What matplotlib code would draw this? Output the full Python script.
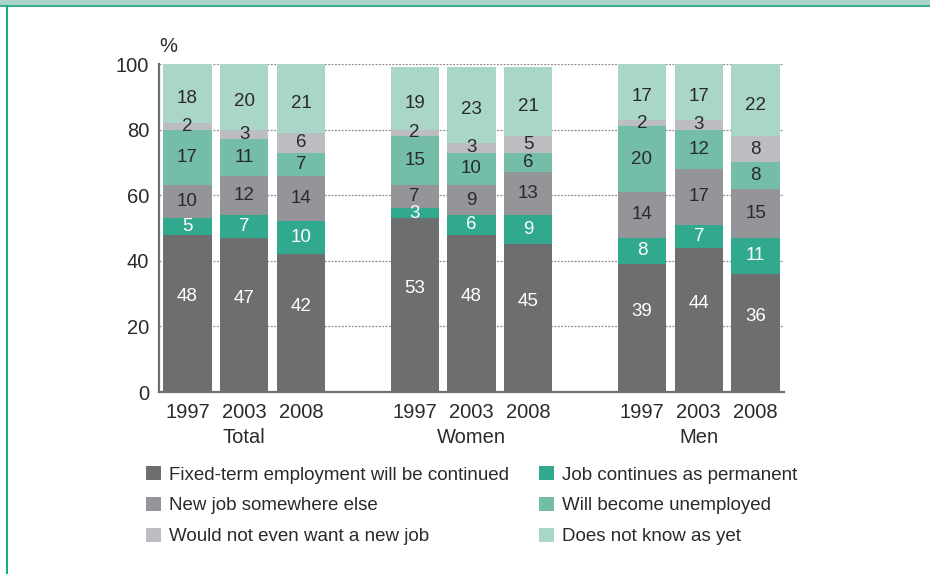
import numpy as np
import matplotlib.pyplot as plt
from matplotlib.patches import Patch, Rectangle

plt.rcParams['font.family'] = ['Liberation Sans', 'DejaVu Sans']

years = ["1997", "2003", "2008"]
groups = ["Total", "Women", "Men"]

# shares in %, one value per bar: Total 97/03/08, Women 97/03/08, Men 97/03/08
fixed_term_continued = [48, 47, 42, 53, 48, 45, 39, 44, 36]
permanent = [5, 7, 10, 3, 6, 9, 8, 7, 11]
new_job_elsewhere = [10, 12, 14, 7, 9, 13, 14, 17, 15]
unemployed = [17, 11, 7, 15, 10, 6, 20, 12, 8]
no_new_job = [2, 3, 6, 2, 3, 5, 2, 3, 8]
dont_know = [18, 20, 21, 19, 23, 21, 17, 17, 22]

series = [fixed_term_continued, permanent, new_job_elsewhere,
          unemployed, no_new_job, dont_know]
series_names = ["Fixed-term employment will be continued",
                "Job continues as permanent",
                "New job somewhere else",
                "Will become unemployed",
                "Would not even want a new job",
                "Does not know as yet"]
colors = ["#6d6e70", "#31a98e", "#949598", "#74bea9", "#bcbdc0", "#aad5c9"]
text_colors = ["white", "white", "#2a2a2a", "#2a2a2a", "#2a2a2a", "#2a2a2a"]
label_shift = [5, 0, 0, 0, 0, -1.5]

fig = plt.figure(figsize=(9.3, 5.74), dpi=100)
ax = fig.add_axes([0.171, 0.317, 0.672, 0.5715])

# three bars per group, one empty slot between groups
x = np.array([g * 4 + i for g in range(3) for i in range(3)], dtype=float)
bottom = np.zeros(len(x))
for vals, col, tcol, dy in zip(series, colors, text_colors, label_shift):
    vals = np.array(vals, dtype=float)
    ax.bar(x, vals, width=0.85, bottom=bottom, color=col, zorder=2)
    for xi, b, v in zip(x, bottom, vals):
        ax.text(xi, b + v / 2 + dy, f"{v:.0f}", ha="center", va="center",
                fontsize=13.5, color=tcol, zorder=3)
    bottom += vals

ax.set_xlim(-0.5, 10.5)
ax.set_ylim(0, 100)
ax.set_yticks(range(0, 101, 20))
ax.set_xticks(x)
ax.set_xticklabels(years * 3)
ax.tick_params(axis="both", length=0, labelsize=14.5, colors="#2a2a2a")
ax.tick_params(axis="x", pad=8)
ax.tick_params(axis="y", pad=7)
ax.grid(axis="y", linestyle=(0, (1.5, 1.2)), color="#8a8a8a", linewidth=0.9, zorder=0)
for s in ["top", "right"]:
    ax.spines[s].set_visible(False)
for s in ["left", "bottom"]:
    ax.spines[s].set_color("#6d6e70")
    ax.spines[s].set_linewidth(1.6)

for g, name in enumerate(groups):
    ax.text(g * 4 + 1, -0.14, name, transform=ax.get_xaxis_transform(),
            ha="center", va="center", fontsize=14.5, color="#2a2a2a")

fig.text(159 / 930, 1 - 47 / 574, "%", ha="left", va="center",
         fontsize=14.5, color="#2a2a2a")

order = [0, 2, 4, 1, 3, 5]
handles = [Patch(facecolor=colors[i], edgecolor="none") for i in order]
labels = [series_names[i] for i in order]
fig.legend(handles, labels, ncol=2, loc="upper left",
           bbox_to_anchor=(146 / 930, 1 - 466 / 574), frameon=False,
           fontsize=13.5, handlelength=0.8, handleheight=0.8,
           handletextpad=0.42, columnspacing=1.6, labelspacing=0.7,
           borderpad=0, borderaxespad=0, labelcolor="#2a2a2a")

# green frame: band across the top and a rule down the left side
fig.patches.append(Rectangle((0, 1 - 6 / 574), 1, 6 / 574, transform=fig.transFigure,
                             facecolor="#aad5c9", edgecolor="none"))
fig.lines.append(plt.Line2D([0, 1], [1 - 6 / 574] * 2, transform=fig.transFigure,
                            color="#3cae8e", linewidth=1.5))
fig.lines.append(plt.Line2D([6.5 / 930] * 2, [0, 1 - 6 / 574], transform=fig.transFigure,
                            color="#1eab7c", linewidth=1.5))

fig.savefig("out.png", dpi=100)
